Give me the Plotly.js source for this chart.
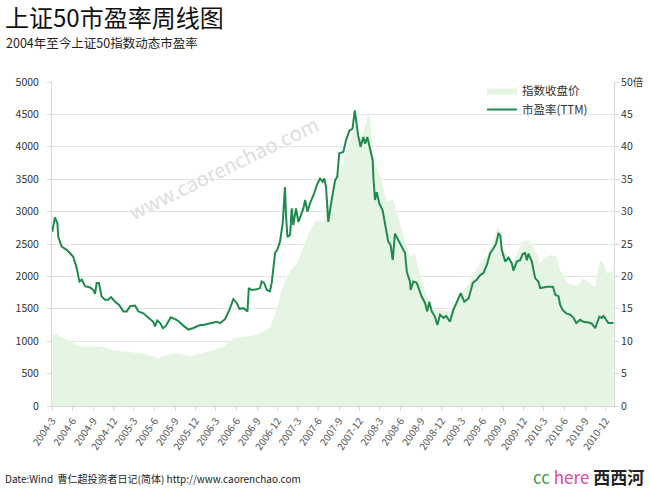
<!DOCTYPE html>
<html><head><meta charset="utf-8">
<script src="https://cdn.plot.ly/plotly-3.0.1.min.js"></script>
<style>html,body{margin:0;padding:0;background:#fff}#chart{width:650px;height:488px}</style>
</head><body><div id="chart"></div><script>
// 市盈率(TTM) weekly line (right axis)
const peDates = ['2004-03-02','2004-03-14','2004-03-25','2004-03-29','2004-04-13','2004-05-05','2004-05-28','2004-06-04','2004-06-19','2004-07-01',
'2004-07-12','2004-07-26','2004-08-18','2004-09-01','2004-09-09','2004-09-16','2004-09-26','2004-10-08','2004-10-23','2004-11-07',
'2004-11-19','2004-12-07','2004-12-25','2005-01-13','2005-01-28','2005-02-12','2005-03-06','2005-03-21','2005-04-12','2005-05-04',
'2005-05-26','2005-06-03','2005-06-13','2005-06-26','2005-07-08','2005-07-22','2005-08-12','2005-09-01','2005-09-19','2005-10-07',
'2005-10-29','2005-11-18','2005-12-06','2005-12-21','2006-01-04','2006-02-03','2006-03-05','2006-03-20','2006-04-11','2006-04-30',
'2006-05-18','2006-06-02','2006-06-14','2006-07-02','2006-07-20','2006-07-26','2006-08-08','2006-08-30','2006-09-14','2006-09-21',
'2006-10-02','2006-10-14','2006-10-28','2006-11-05','2006-11-20','2006-12-01','2006-12-12','2006-12-24','2007-01-03','2007-01-08',
'2007-01-14','2007-01-26','2007-02-02','2007-02-09','2007-02-21','2007-03-04','2007-03-26','2007-04-03','2007-04-13','2007-04-25',
'2007-05-13','2007-05-25','2007-06-08','2007-06-20','2007-06-27','2007-07-05','2007-07-15','2007-07-30','2007-08-14','2007-08-24',
'2007-09-02','2007-09-20','2007-10-02','2007-10-17','2007-10-31','2007-11-10','2007-11-18','2007-11-25','2007-12-06','2007-12-18',
'2007-12-26','2008-01-05','2008-01-17','2008-01-29','2008-01-31','2008-02-08','2008-02-16','2008-02-27','2008-03-13','2008-03-24',
'2008-04-07','2008-04-18','2008-04-27','2008-05-07','2008-05-22','2008-06-06','2008-06-21','2008-06-29','2008-07-13','2008-07-16',
'2008-07-28','2008-08-12','2008-09-03','2008-09-18','2008-09-28','2008-10-07','2008-10-18','2008-11-01','2008-11-12','2008-11-24',
'2008-12-09','2008-12-21','2008-12-31','2009-01-07','2009-01-22','2009-02-06','2009-02-24','2009-03-12','2009-03-31','2009-04-19',
'2009-05-07','2009-05-22','2009-06-05','2009-06-21','2009-07-05','2009-07-20','2009-08-01','2009-08-11','2009-08-19','2009-08-26',
'2009-09-10','2009-09-25','2009-10-10','2009-10-17','2009-11-01','2009-11-16','2009-11-28','2009-12-08','2009-12-16','2009-12-23',
'2010-01-07','2010-01-14','2010-01-22','2010-02-05','2010-02-13','2010-02-28','2010-03-15','2010-04-11','2010-04-21','2010-05-06',
'2010-05-13','2010-05-25','2010-06-09','2010-06-27','2010-07-12','2010-07-24','2010-08-10','2010-08-25','2010-09-16','2010-10-01',
'2010-10-16','2010-11-04','2010-11-15','2010-11-22','2010-12-04','2010-12-14','2011-01-06'];
const peValues = [26.9,29.1,28.2,26.1,24.6,24.1,23.3,23.0,21.3,19.2,
19.5,18.5,18.3,17.9,17.3,19.0,19.0,16.9,16.4,16.4,
16.8,16.1,15.6,14.6,14.6,15.4,15.5,14.6,14.3,13.7,
13.0,12.3,13.2,12.8,12.0,12.4,13.7,13.4,13.0,12.4,
11.8,12.0,12.3,12.5,12.5,12.8,13.0,12.8,13.4,14.8,
16.5,15.9,15.0,15.1,14.6,18.2,17.9,18.0,18.2,19.2,
19.0,17.9,17.7,19.0,23.6,24.2,25.4,28.2,33.8,29.2,
26.1,26.4,30.5,27.9,30.5,28.4,30.5,31.8,30.0,31.3,
32.8,34.1,35.1,34.6,35.1,33.8,28.4,31.8,34.8,35.4,
39.0,39.2,41.0,42.5,42.8,45.6,43.6,41.8,40.0,41.5,
40.5,41.5,39.7,37.9,35.9,31.8,33.0,31.3,30.2,28.2,
25.4,24.8,22.5,26.6,25.6,24.8,23.6,20.7,19.2,17.9,
19.2,19.0,16.9,15.9,14.6,16.1,14.6,13.8,12.5,14.1,
13.6,13.9,13.4,13.0,14.8,15.9,17.4,16.1,16.6,19.0,
19.5,20.2,20.5,21.8,23.6,24.3,25.1,26.6,26.4,24.1,
22.3,22.9,22.0,20.9,22.3,22.5,23.5,23.6,22.5,23.5,
22.3,21.0,19.7,19.2,18.2,18.3,18.4,18.4,17.2,16.9,
15.6,14.8,14.3,14.1,13.6,12.8,13.3,13.0,12.9,12.7,
12.0,13.8,13.6,13.9,13.3,12.8,12.8];

// 指数收盘价 (left axis, filled area)
const indexDates = ['2004-03-02','2004-03-22','2004-04-20','2004-06-04','2004-07-04','2004-08-18','2004-10-01','2004-11-14','2005-01-13','2005-02-27',
'2005-04-12','2005-05-26','2005-06-18','2005-07-10','2005-08-24','2005-09-23','2005-11-06','2005-12-21','2006-02-03','2006-04-05',
'2006-05-18','2006-07-16','2006-08-30','2006-10-28','2006-11-27','2006-12-19','2007-01-11','2007-01-26','2007-02-25','2007-03-26',
'2007-04-25','2007-05-25','2007-06-23','2007-07-23','2007-08-22','2007-09-20','2007-10-20','2007-10-28','2007-11-14','2007-12-02',
'2007-12-20','2008-01-07','2008-01-17','2008-01-31','2008-02-16','2008-03-08','2008-03-31','2008-04-30','2008-05-22','2008-06-13',
'2008-07-13','2008-08-04','2008-08-26','2008-09-25','2008-10-24','2008-11-24','2009-01-07','2009-02-21','2009-04-22','2009-05-22',
'2009-06-21','2009-07-05','2009-08-11','2009-09-02','2009-10-17','2009-11-24','2009-12-23','2010-01-22','2010-02-13','2010-03-07',
'2010-04-06','2010-04-28','2010-05-13','2010-05-28','2010-06-19','2010-07-27','2010-08-25','2010-09-22','2010-10-16','2010-11-07',
'2010-11-22','2010-12-06','2010-12-29','2011-01-06'];
const indexValues = [1100,1110,1050,972,920,920,920,870,843,828,
808,766,726,766,818,808,766,808,843,920,
1050,1074,1100,1203,1485,1792,1997,2074,2203,2458,
2715,2869,2843,3177,3535,3792,4100,4200,4350,4100,
4250,4500,4450,3843,3700,3500,3150,3200,2900,2650,
2300,2350,2050,1689,1485,1485,1458,1689,2023,2220,
2305,2408,2792,2408,2203,2535,2562,2408,2203,2305,
2331,2305,2100,1997,1895,1843,1972,1895,1843,2254,
2203,2049,2074,2100];

const tickLabels = ['2004-3','2004-6','2004-9','2004-12','2005-3','2005-6','2005-9','2005-12','2006-3','2006-6','2006-9','2006-12',
'2007-3','2007-6','2007-9','2007-12','2008-3','2008-6','2008-9','2008-12','2009-3','2009-6','2009-9','2009-12',
'2010-3','2010-6','2010-9','2010-12'];
const leftTicks = [0,500,1000,1500,2000,2500,3000,3500,4000,4500,5000];
const rightTicks = [0,5,10,15,20,25,30,35,40,45,50];
const rightTickLabels = ['0','5','10','15','20','25','30','35','40','45','50倍'];

const tickVals = tickLabels.map(s => { const [y,m] = s.split('-'); return y + '-' + String(m).padStart(2,'0') + '-01'; });

const FONT = '"Noto Sans CJK SC", "Noto Sans", sans-serif';
const L = 52, R = 614, T = 82, B = 406;
const px = x => (x - L) / (R - L);
const py = y => (B - y) / (B - T);

const traces = [
  {x: indexDates, y: indexValues, type: 'scatter', mode: 'lines', name: '指数收盘价',
   fill: 'tozeroy', fillcolor: '#e6f4e4', line: {width: 0, color: '#e6f4e4'}, hoverinfo: 'skip'},
  {x: peDates, y: peValues, type: 'scatter', mode: 'lines', name: '市盈率(TTM)', yaxis: 'y2',
   line: {color: '#1f8a4e', width: 2}}
];

const layout = {
  width: 650, height: 488,
  margin: {l: L, r: 650 - R, t: T, b: 488 - B},
  paper_bgcolor: '#ffffff', plot_bgcolor: '#ffffff',
  font: {family: FONT, color: '#333'},
  showlegend: true,
  legend: {x: px(482), y: py(76), xanchor: 'left', yanchor: 'top', bgcolor: 'rgba(0,0,0,0)',
           font: {size: 11.5, color: '#333', family: FONT}, tracegroupgap: 0},
  xaxis: {type: 'date', range: ['2004-03-01', '2011-01-08'], tickvals: tickVals, ticktext: tickLabels,
          tickangle: -55, tickfont: {size: 10, color: '#555', family: FONT}, showgrid: false,
          showline: true, linecolor: '#d9d9d9', ticks: 'outside', ticklen: 4, tickcolor: '#d9d9d9', zeroline: false},
  yaxis: {range: [0, 5000], tickvals: leftTicks, ticktext: leftTicks.map(String), showgrid: true, gridcolor: '#e4e4e4',
          showline: true, linecolor: '#d9d9d9', ticks: 'outside', ticklen: 4, tickcolor: '#d9d9d9', zeroline: false,
          tickfont: {size: 10.5, color: '#333', family: FONT}, ticklabelstandoff: 6, fixedrange: true},
  yaxis2: {overlaying: 'y', side: 'right', range: [0, 50], tickvals: rightTicks, ticktext: rightTickLabels,
           showgrid: false, showline: true, linecolor: '#d9d9d9', ticks: 'outside', ticklen: 4, tickcolor: '#d9d9d9',
           zeroline: false, tickfont: {size: 10.5, color: '#333', family: FONT}},
  annotations: [
    {text: '上证50市盈率周线图', xref: 'paper', yref: 'paper', x: px(3), y: py(16), xanchor: 'left', yanchor: 'middle',
     showarrow: false, font: {size: 24, color: '#111', family: FONT}},
    {text: '2004年至今上证50指数动态市盈率', xref: 'paper', yref: 'paper', x: px(4), y: py(43), xanchor: 'left', yanchor: 'middle',
     showarrow: false, font: {size: 12.5, color: '#222', family: FONT}},
    {text: 'Date:Wind  曹仁超投资者日记(简体) http://www.caorenchao.com', xref: 'paper', yref: 'paper', x: px(3), y: py(479),
     xanchor: 'left', yanchor: 'middle', showarrow: false, font: {size: 10, color: '#222', family: FONT}},
    {text: '<span style="color:#3e9b3e">cc</span> <span style="color:#e2489a">here</span> <b style="color:#222">西西河</b>',
     xref: 'paper', yref: 'paper', x: px(646), y: py(476), xanchor: 'right', yanchor: 'middle', showarrow: false,
     font: {size: 17, family: FONT}},
    {text: 'www.caorenchao.com', xref: 'paper', yref: 'paper', x: px(223), y: py(167), xanchor: 'center', yanchor: 'middle',
     showarrow: false, textangle: -26, font: {size: 20, color: '#dedede', family: FONT}}
  ]
};

Plotly.newPlot('chart', traces, layout, {staticPlot: true, displayModeBar: false});
</script></body></html>
